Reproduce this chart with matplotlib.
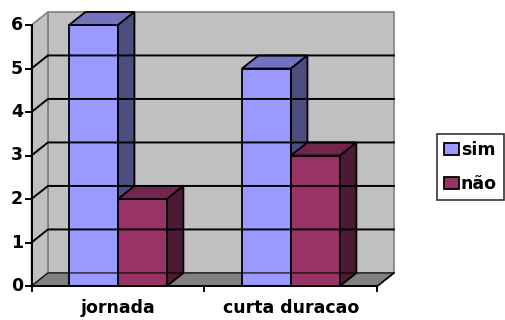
import matplotlib.pyplot as plt
from matplotlib.patches import Polygon, Patch

categorias = ["jornada", "curta duracao"]
series = ["sim", "não"]
valores_sim = [6, 5]
valores_nao = [2, 3]
marcas_y = [0, 1, 2, 3, 4, 5, 6]

cores_frente = ["#9999FF", "#993366"]
cores_topo = ["#7373C0", "#73264D"]
cores_lado = ["#4D4D80", "#4D1A33"]

# profundidade do efeito 3D, em unidades de dados
DX = 0.095
DY = 0.30
LARG = 0.283


def caixa(ax, x, w, h, i):
    """Desenha uma coluna 3D: frente, topo e lado."""
    ed = dict(edgecolor="black", linewidth=1.3, joinstyle="miter")
    ax.add_patch(Polygon([(x, 0), (x + w, 0), (x + w, h), (x, h)],
                         facecolor=cores_frente[i], **ed))
    ax.add_patch(Polygon([(x, h), (x + w, h), (x + w + DX, h + DY), (x + DX, h + DY)],
                         facecolor=cores_topo[i], **ed))
    ax.add_patch(Polygon([(x + w, 0), (x + w + DX, DY), (x + w + DX, h + DY), (x + w, h)],
                         facecolor=cores_lado[i], **ed))


def grafico() -> None:
    fig = plt.figure(figsize=(5.05, 3.2), dpi=100)
    ax = fig.add_axes([0, 0, 1, 1])
    ax.set_xlim(-118 / 173, 387 / 173)
    ax.set_ylim(-34 / 43.5, 286 / 43.5)
    ax.axis("off")

    x0, x1 = -0.5, len(categorias) - 0.5
    ymax = max(marcas_y)
    cinza = "#808080"

    # paredes e chao
    ax.add_patch(Polygon([(x0 + DX, DY), (x1 + DX, DY), (x1 + DX, ymax + DY), (x0 + DX, ymax + DY)],
                         facecolor="#C0C0C0", edgecolor=cinza, linewidth=1.2))
    ax.add_patch(Polygon([(x0, 0), (x0 + DX, DY), (x0 + DX, ymax + DY), (x0, ymax)],
                         facecolor="#C0C0C0", edgecolor=cinza, linewidth=1.2))
    ax.add_patch(Polygon([(x0, 0), (x1, 0), (x1 + DX, DY), (x0 + DX, DY)],
                         facecolor=cinza, edgecolor=cinza, linewidth=1.0))

    for v in marcas_y[:-1]:
        ax.plot([x0, x0 + DX, x1 + DX], [v, v + DY, v + DY], color="black",
                linewidth=1.4 if v > 0 else 0.8, solid_joinstyle="miter")
    ax.plot([x1, x1 + DX], [0, DY], color="black", linewidth=1.2)

    # colunas
    for j in range(len(categorias)):
        caixa(ax, j - LARG, LARG, valores_sim[j], 0)
        caixa(ax, j, LARG, valores_nao[j], 1)

    # eixos
    fonte = dict(family="DejaVu Sans", fontweight="bold", fontsize=12.5)
    ax.plot([x0, x0], [0, ymax], color="black", linewidth=1.4)
    ax.plot([x0, x1], [0, 0], color="black", linewidth=1.4)
    for v in marcas_y:
        ax.plot([x0 - 0.03, x0], [v, v], color="black", linewidth=1.4)
        ax.text(x0 - 0.048, v, str(v), ha="right", va="center", **fonte)
    for k in range(len(categorias) + 1):
        ax.plot([x0 + k, x0 + k], [0, -0.12], color="black", linewidth=1.4)
    for j, nome in enumerate(categorias):
        ax.text(j, -0.3, nome, ha="center", va="top", **fonte)

    alcas = [Patch(facecolor=cores_frente[i], edgecolor="black", linewidth=1.3, label=s)
             for i, s in enumerate(series)]
    leg = fig.legend(handles=alcas, loc="upper left", bbox_to_anchor=(437 / 505, 1 - 134 / 320),
                     frameon=True, fancybox=False, borderaxespad=0, borderpad=0.4,
                     handlelength=0.86, handleheight=0.69, handletextpad=0.12,
                     labelspacing=0.95, prop=dict(family="DejaVu Sans", weight="bold", size=12.5))
    leg.get_frame().set_edgecolor("black")
    leg.get_frame().set_linewidth(1.2)

    fig.savefig("out.png", dpi=100)


if __name__ == "__main__":
    grafico()
